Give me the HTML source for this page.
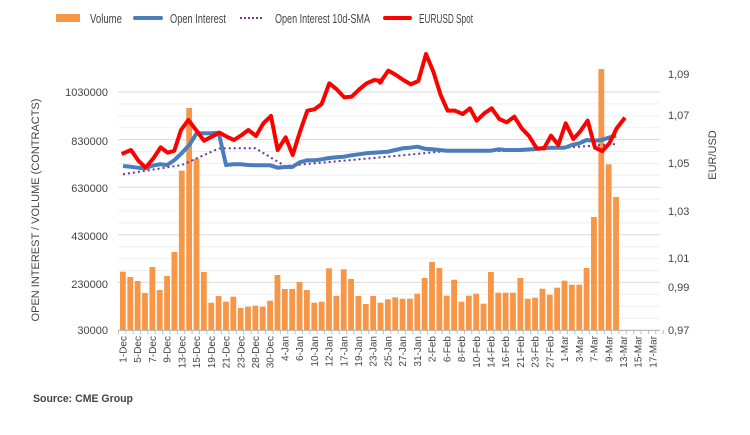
<!DOCTYPE html>
<html><head><meta charset="utf-8"><style>
body{margin:0;background:#fff;}
svg text{font-family:"Liberation Sans",sans-serif;fill:#444;}
</style></head><body>
<svg id="s" width="750" height="430" viewBox="0 0 750 430" xmlns="http://www.w3.org/2000/svg">
<rect width="750" height="430" fill="#fff"/>
<g id="grid"></g>
<g id="bars"></g>
<polyline id="sma" fill="none" stroke="#7030a0" stroke-width="2" stroke-dasharray="2,3"/>
<polyline id="oi" fill="none" stroke="#4a7ebb" stroke-width="4" stroke-linejoin="round"/>
<polyline id="eur" fill="none" stroke="#ff0000" stroke-width="4" stroke-linejoin="round"/>
<g id="ticks" stroke="#bbb" stroke-width="1"></g>
<!-- legend -->
<rect x="56" y="14" width="24" height="8" fill="#f79646"/>
<text x="90" y="23" font-size="13" textLength="32" lengthAdjust="spacingAndGlyphs">Volume</text>
<line x1="135" y1="18" x2="161" y2="18" stroke="#4a7ebb" stroke-width="4" stroke-linecap="round"/>
<text x="170" y="23" font-size="13" textLength="56" lengthAdjust="spacingAndGlyphs">Open Interest</text>
<line x1="240" y1="18" x2="264" y2="18" stroke="#7030a0" stroke-width="2" stroke-dasharray="2,2"/>
<text x="275" y="23" font-size="13" textLength="95" lengthAdjust="spacingAndGlyphs">Open Interest 10d-SMA</text>
<line x1="385" y1="18" x2="410" y2="18" stroke="#ff0000" stroke-width="4" stroke-linecap="round"/>
<text x="419" y="23" font-size="13" textLength="54" lengthAdjust="spacingAndGlyphs">EURUSD Spot</text>
<!-- left axis labels -->
<g font-size="11" text-anchor="end">
<text x="108" y="96">1030000</text>
<text x="108" y="145">830000</text>
<text x="108" y="192">630000</text>
<text x="108" y="240">430000</text>
<text x="108" y="288">230000</text>
<text x="108" y="334">30000</text>
</g>
<g font-size="11">
<text x="668" y="78">1,09</text>
<text x="668" y="119">1,07</text>
<text x="668" y="167">1,05</text>
<text x="668" y="215">1,03</text>
<text x="668" y="262">1,01</text>
<text x="668" y="291">0,99</text>
<text x="668" y="334">0,97</text>
</g>
<text transform="translate(39,210) rotate(-90)" font-size="11" text-anchor="middle">OPEN INTEREST / VOLUME (CONTRACTS)</text>
<text transform="translate(716,155) rotate(-90)" font-size="11" text-anchor="middle">EUR/USD</text>
<text x="33" y="402" font-size="11" font-weight="bold" fill="#333" textLength="100" lengthAdjust="spacingAndGlyphs">Source: CME Group</text>
<g font-size="10" text-anchor="end" id="xl">
<text transform="translate(126.5,336) rotate(-90)">1-Dec</text>
<text transform="translate(141.2,336) rotate(-90)">5-Dec</text>
<text transform="translate(155.9,336) rotate(-90)">7-Dec</text>
<text transform="translate(170.7,336) rotate(-90)">9-Dec</text>
<text transform="translate(185.4,336) rotate(-90)">13-Dec</text>
<text transform="translate(200.1,336) rotate(-90)">15-Dec</text>
<text transform="translate(214.8,336) rotate(-90)">19-Dec</text>
<text transform="translate(229.5,336) rotate(-90)">21-Dec</text>
<text transform="translate(244.3,336) rotate(-90)">23-Dec</text>
<text transform="translate(259.0,336) rotate(-90)">28-Dec</text>
<text transform="translate(273.7,336) rotate(-90)">30-Dec</text>
<text transform="translate(288.4,336) rotate(-90)">4-Jan</text>
<text transform="translate(303.1,336) rotate(-90)">6-Jan</text>
<text transform="translate(317.9,336) rotate(-90)">10-Jan</text>
<text transform="translate(332.6,336) rotate(-90)">12-Jan</text>
<text transform="translate(347.3,336) rotate(-90)">17-Jan</text>
<text transform="translate(362.0,336) rotate(-90)">19-Jan</text>
<text transform="translate(376.7,336) rotate(-90)">23-Jan</text>
<text transform="translate(391.5,336) rotate(-90)">25-Jan</text>
<text transform="translate(406.2,336) rotate(-90)">27-Jan</text>
<text transform="translate(420.9,336) rotate(-90)">31-Jan</text>
<text transform="translate(435.6,336) rotate(-90)">2-Feb</text>
<text transform="translate(450.3,336) rotate(-90)">6-Feb</text>
<text transform="translate(465.1,336) rotate(-90)">8-Feb</text>
<text transform="translate(479.8,336) rotate(-90)">10-Feb</text>
<text transform="translate(494.5,336) rotate(-90)">14-Feb</text>
<text transform="translate(509.2,336) rotate(-90)">16-Feb</text>
<text transform="translate(523.9,336) rotate(-90)">21-Feb</text>
<text transform="translate(538.7,336) rotate(-90)">23-Feb</text>
<text transform="translate(553.4,336) rotate(-90)">27-Feb</text>
<text transform="translate(568.1,336) rotate(-90)">1-Mar</text>
<text transform="translate(582.8,336) rotate(-90)">3-Mar</text>
<text transform="translate(597.5,336) rotate(-90)">7-Mar</text>
<text transform="translate(612.3,336) rotate(-90)">9-Mar</text>
<text transform="translate(627.0,336) rotate(-90)">13-Mar</text>
<text transform="translate(641.7,336) rotate(-90)">15-Mar</text>
<text transform="translate(656.4,336) rotate(-90)">17-Mar</text>
</g>
</svg>
<script>
var NS="http://www.w3.org/2000/svg";
function el(p,t,a){var e=document.createElementNS(NS,t);for(var k in a)e.setAttribute(k,a[k]);document.getElementById(p).appendChild(e);return e;}
for(var i=0;i<=20;i++){var y=330-i*11.9;el('grid','line',{x1:118,x2:660,y1:y,y2:y,stroke:(i%4==0)?'#d9d9d9':'#efefef','stroke-width':1});}
var tops=[271.7,277,281,293,267,290,276,252,170.7,108,158.7,272,302.7,296,301.7,296.7,308,306.7,305.7,306.7,300.7,275,289,289,282,290,302.7,301.7,268.3,296,269.3,279,296,304,296,302.7,299.3,297.3,298.7,298.7,293.7,278,262,268,295.7,279.7,301.7,295.7,293.7,303.7,272,292.7,292.7,292.7,278,298.7,297.7,288.7,294.7,287.7,280.7,284.7,284.7,268,217,69,164.3,197];
var W=7.36;
tops.forEach(function(t,i){var x=120+i*W;el('bars','rect',{x:x,y:t,width:5.8,height:330-t,fill:'#f79646'});});
for(var i=0;i<=74;i++){var x=118.5+i*W;el('ticks','line',{x1:x,x2:x,y1:330,y2:334});}
el('ticks','line',{x1:118,x2:660,y1:330.5,y2:330.5});
var oi=[166,166.7,167.7,168.3,165.7,164.3,165,160,153,145,133.3,133.3,133.3,132.7,165,164.3,164.3,165,165.3,165.3,165.3,167.7,167,167,162.3,160.3,160.3,159.3,158,157.3,156.7,155.3,154.3,153.3,152.7,152.2,151.7,150,148.3,147.7,146.7,148.7,149.3,150,150.7,150.7,150.7,150.7,150.7,150.7,150.7,149.3,150,150,150,149.5,149,148.3,147.7,147.7,147.7,145,143.3,140,140.7,140,137.7,135.7];
var p=oi.map(function(v,i){return (123+i*W)+','+v;}).join(' ');
document.getElementById('oi').setAttribute('points',p);
var sma=[];for(var i=0;i<68;i++){var v;
if(i<=8)v=174.3-(174.3-165)*i/8;else if(i<=13)v=165-(165-148.5)*(i-8)/5;else if(i<=18)v=148.3;else if(i<=22)v=148.3+(166-148.3)*(i-18)/4;else if(i<=36)v=166-(166-156.7)*(i-22)/14;else if(i<=44)v=156.7-(156.7-151)*(i-36)/8;else if(i<=54)v=151;else if(i<=62)v=151-(151-146.7)*(i-54)/8;else v=146.7-(146.7-144)*(i-62)/5;sma.push((123+i*W)+','+v);}
document.getElementById('sma').setAttribute('points',sma.join(' '));
var r1=[[35,342],[63,330],[85,362],[107,383],[130,355],[152,322],[173,338],[193,332],[213,270],[235,240],[258,270],[282,302],[305,290],[328,278],[350,290],[372,300],[395,285],[415,270],[438,288],[460,250],[483,228],[503,330],[527,292],[548,345],[570,275],[592,212],[613,208],[635,192],[658,130],[680,148],[703,172],[725,170],[748,148],[770,130],[793,120],[815,123]];
var r2=[[0,128],[25,92],[48,105],[70,120],[93,133],[115,123],[138,42],[160,95],[182,165],[203,212],[225,212],[248,222],[270,205],[290,242],[313,220],[335,205],[358,237],[380,247],[403,230],[425,265],[447,288],[470,325],[492,325],[513,287],[535,315],[557,250],[580,297],[600,275],[623,242],[645,323],[667,333],[688,310],[710,265],[735,233]];
var pts=r1.map(function(a){return (110+a[0]/3)+','+(40+a[1]/3);}).concat(r2.map(function(a){return (380+a[0]/3)+','+(40+a[1]/3);}));
document.getElementById('eur').setAttribute('points',pts.join(' '));
</script>
</body></html>
